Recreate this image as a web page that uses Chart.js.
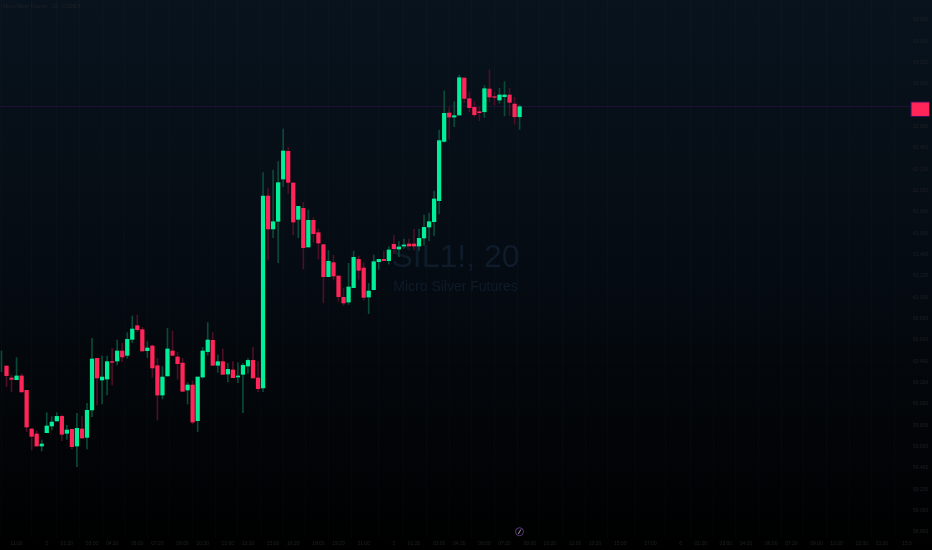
<!DOCTYPE html>
<html>
<head>
<meta charset="utf-8">
<title>SIL1!, 20</title>
<script src="https://cdn.jsdelivr.net/npm/chart.js@4"></script>
<style>
    html, body { margin: 0; padding: 0; background: #000; overflow: hidden; }
    canvas { display: block; }
</style>
</head>
<body>
<canvas id="chart" width="932" height="550"></canvas>
<script>
// bar number of the first entry in the arrays below
const firstBar = -1;

// the first bar is cut off at the left edge, only its wick shows
const opens = [null,
    60.356, 60.244, 60.228, 60.263, 60.128, 59.766, 59.719, 59.606, 59.731, 59.794,
    59.841, 59.884, 59.725, 59.763, 59.606, 59.766, 59.687, 59.944, 60.428, 60.225,
    60.234, 60.397, 60.403, 60.497, 60.456, 60.606, 60.734, 60.697, 60.500, 60.544,
    60.359, 60.084, 60.263, 60.497, 60.441, 60.384, 60.131, 60.178, 59.844, 60.253,
    60.491, 60.597, 60.363, 60.397, 60.281, 60.319, 60.253, 60.278, 60.356, 60.409,
    60.244, 60.150, 61.950, 61.641, 61.713, 62.109, 62.369, 62.072, 61.731, 61.834,
    61.472, 61.722, 61.606, 61.494, 61.194, 61.325, 61.200, 61.000, 60.956, 61.091,
    61.356, 61.275, 61.003, 61.072, 61.334, 61.356, 61.344, 61.497, 61.453, 61.481,
    61.500, 61.500, 61.481, 61.556, 61.659, 61.709, 61.906, 62.462, 62.728, 62.690,
    62.709, 63.056, 62.862, 62.781, 62.740, 62.740, 62.953, 62.881, 62.850, 62.881,
    62.897, 62.812, 62.693];

const highs = [60.497,
    60.356, 60.272, 60.434, 60.281, 60.128, 59.766, 59.750, 59.663, 59.919, 59.881,
    59.919, 59.897, 59.800, 59.763, 59.913, 59.881, 60.006, 60.616, 60.428, 60.450,
    60.450, 60.522, 60.600, 60.569, 60.669, 60.825, 60.834, 60.719, 60.584, 60.553,
    60.428, 60.350, 60.709, 60.684, 60.484, 60.428, 60.200, 60.216, 60.253, 60.531,
    60.763, 60.669, 60.459, 60.516, 60.381, 60.397, 60.387, 60.381, 60.428, 60.531,
    60.400, 62.169, 62.022, 62.194, 62.272, 62.578, 62.406, 62.072, 61.853, 61.891,
    61.819, 61.747, 61.641, 61.494, 61.438, 61.394, 61.200, 61.084, 61.319, 61.434,
    61.388, 61.325, 61.131, 61.397, 61.356, 61.434, 61.475, 61.584, 61.522, 61.547,
    61.547, 61.637, 61.640, 61.772, 61.790, 61.997, 62.569, 62.937, 62.778, 62.834,
    63.084, 63.056, 62.928, 62.834, 62.787, 62.984, 63.131, 62.928, 62.959, 63.022,
    62.959, 62.875, 62.803];

const lows = [60.303,
    60.163, 60.116, 60.225, 60.113, 59.741, 59.569, 59.606, 59.559, 59.731, 59.756,
    59.841, 59.656, 59.669, 59.578, 59.413, 59.681, 59.578, 59.881, 59.991, 60.000,
    60.084, 60.178, 60.366, 60.397, 60.428, 60.575, 60.678, 60.497, 60.434, 60.250,
    59.850, 60.047, 60.263, 60.456, 60.231, 60.119, 60.000, 59.813, 59.741, 60.241,
    60.459, 60.363, 60.297, 60.278, 60.206, 60.247, 60.200, 59.919, 60.288, 60.244,
    60.116, 60.116, 61.350, 61.559, 61.325, 62.038, 61.975, 61.584, 61.559, 61.266,
    61.472, 61.516, 61.359, 60.950, 61.194, 61.163, 60.963, 60.925, 60.934, 61.091,
    61.169, 60.975, 60.847, 61.069, 61.262, 61.344, 61.312, 61.412, 61.381, 61.459,
    61.481, 61.444, 61.440, 61.490, 61.531, 61.575, 61.781, 62.453, 62.484, 62.600,
    62.709, 62.825, 62.740, 62.694, 62.656, 62.687, 62.834, 62.803, 62.819, 62.700,
    62.703, 62.622, 62.575];

const closes = [null,
    60.266, 60.231, 60.263, 60.113, 59.784, 59.697, 59.606, 59.625, 59.794, 59.831,
    59.884, 59.716, 59.756, 59.600, 59.772, 59.681, 59.941, 60.422, 60.244, 60.253,
    60.397, 60.391, 60.497, 60.441, 60.606, 60.703, 60.697, 60.497, 60.525, 60.338,
    60.084, 60.253, 60.516, 60.456, 60.378, 60.119, 60.178, 59.831, 60.253, 60.497,
    60.600, 60.363, 60.397, 60.278, 60.325, 60.247, 60.263, 60.363, 60.409, 60.244,
    60.144, 61.950, 61.641, 61.709, 62.075, 62.372, 62.078, 61.706, 61.853, 61.466,
    61.722, 61.597, 61.509, 61.194, 61.338, 61.200, 61.006, 60.947, 61.097, 61.375,
    61.253, 61.000, 61.059, 61.334, 61.356, 61.344, 61.444, 61.456, 61.472, 61.491,
    61.481, 61.481, 61.553, 61.656, 61.709, 61.922, 62.469, 62.725, 62.690, 62.703,
    63.059, 62.865, 62.778, 62.712, 62.731, 62.956, 62.878, 62.875, 62.897, 62.897,
    62.828, 62.693, 62.787];

const priceTicks = [58.8, 59.0, 59.2, 59.4, 59.6, 59.8, 60.0, 60.2, 60.4, 60.6, 60.8, 61.0, 61.2,
    61.4, 61.6, 61.8, 62.0, 62.2, 62.4, 62.6, 62.8, 63.0, 63.2, 63.4, 63.6];

const timeTickBars = [2, 8, 12, 17, 21, 26, 30, 35, 39, 44, 48, 53, 57, 62, 66, 71, 77, 81, 86, 90, 95, 99,
    104, 108, 113, 117, 122, 128, 134, 138, 143, 147, 152, 156, 161, 165, 170, 174, 179];
const timeTickLabels = ['11:00', '2', '01:20', '03:00', '04:20', '06:00', '07:20', '09:00', '10:20', '12:00',
    '13:20', '15:00', '16:20', '18:00', '19:20', '21:00', '3', '01:20', '03:00', '04:20', '06:00', '07:20',
    '09:00', '10:20', '12:00', '13:20', '15:00', '17:00', '6', '01:20', '03:00', '04:20', '06:00', '07:20',
    '09:00', '10:20', '12:00', '13:20', '15:0'];

const lastPrice = 62.794;
const titleText = 'Micro Silver Futures · 20 · COMEX';
const watermarkSymbol = 'SIL1!, 20';
const watermarkName = 'Micro Silver Futures';

const UP = '#00f09a';
const DOWN = '#ff2558';
const UP_WICK = '#0a4a38';
const DOWN_WICK = '#4c0f26';
const TEXT = '#1f2226';
const GRID_X = 'rgba(110,135,160,0.04)';
const GRID_Y = 'rgba(110,135,160,0.012)';

const bars = opens.map((_, i) => firstBar + i);
const isUp = i => closes[i] >= opens[i];

const backdrop = {
    id: 'backdrop',
    beforeDraw(chart) {
        const { ctx, width, height } = chart;
        const g = ctx.createLinearGradient(0, 0, 0, height);
        g.addColorStop(0, '#08131d');
        g.addColorStop(0.5, '#050b12');
        g.addColorStop(1, '#000000');
        ctx.save();
        ctx.fillStyle = g;
        ctx.fillRect(0, 0, width, height);
        ctx.restore();
    },
    beforeDatasetsDraw(chart) {
        const { ctx, chartArea, scales } = chart;
        const y = scales.y.getPixelForValue(lastPrice);
        ctx.save();
        ctx.textAlign = 'center';
        ctx.textBaseline = 'middle';
        ctx.fillStyle = '#0e1b2a';
        ctx.font = '32px "Liberation Sans"';
        ctx.fillText(watermarkSymbol, 455.5, 258);
        ctx.font = '14px "Liberation Sans"';
        ctx.fillText(watermarkName, 455.5, 287);
        ctx.textAlign = 'left';
        ctx.fillStyle = TEXT;
        ctx.font = '5px "Liberation Sans"';
        ctx.fillText(titleText, 3, 6.5);
        ctx.strokeStyle = '#1f0f33';
        ctx.lineWidth = 1;
        ctx.beginPath();
        ctx.moveTo(chartArea.left, Math.round(y) + 0.5);
        ctx.lineTo(chartArea.right, Math.round(y) + 0.5);
        ctx.stroke();
        ctx.restore();
    },
    afterDraw(chart) {
        const { ctx, scales } = chart;
        const y = scales.y.getPixelForValue(lastPrice);
        ctx.save();
        // price tag on the axis
        ctx.fillStyle = '#3c0f5e';
        ctx.fillRect(910.5, y - 4.5, 19.5, 15.5);
        ctx.fillStyle = '#ff2558';
        ctx.fillRect(911.5, y - 3.5, 17.5, 13.5);
        // small logo at the bottom
        ctx.strokeStyle = '#5a3a78';
        ctx.lineWidth = 1;
        ctx.beginPath();
        ctx.arc(519.5, 531.7, 4, 0, Math.PI * 2);
        ctx.stroke();
        ctx.strokeStyle = '#9a9aa4';
        ctx.beginPath();
        ctx.moveTo(520.8, 529.5);
        ctx.lineTo(518.4, 534);
        ctx.stroke();
        ctx.restore();
    },
};

new Chart(document.getElementById('chart'), {
    type: 'bar',
    data: {
        datasets: [
            {
                label: 'body',
                data: bars.map((x, i) => ({ x, y: opens[i] === null ? null : [opens[i], closes[i]] })),
                backgroundColor: bars.map((_, i) => (isUp(i) ? UP : DOWN)),
                barThickness: 3.6,
                grouped: false,
                order: 1,
            },
            {
                label: 'wick',
                data: bars.map((x, i) => ({ x, y: [lows[i], highs[i]] })),
                backgroundColor: bars.map((_, i) => (isUp(i) ? UP_WICK : DOWN_WICK)),
                barThickness: 1,
                grouped: false,
                order: 2,
            },
        ],
    },
    plugins: [backdrop],
    options: {
        responsive: false,
        animation: false,
        devicePixelRatio: 1,
        layout: { padding: 0 },
        plugins: {
            legend: { display: false },
            tooltip: { enabled: false },
        },
        scales: {
            x: {
                type: 'linear',
                min: -1.292,
                max: 179.6,
                offset: false,
                afterBuildTicks: scale => {
                    scale.ticks = timeTickBars.map(value => ({ value }));
                },
                afterFit: scale => {
                    scale.height = 12;
                    scale.paddingLeft = 0;
                    scale.paddingRight = 0;
                },
                grid: { color: GRID_X, drawTicks: false },
                border: { display: false },
                ticks: {
                    autoSkip: false,
                    maxRotation: 0,
                    padding: 3,
                    color: TEXT,
                    font: { family: '"Liberation Sans"', size: 5 },
                    callback: value => timeTickLabels[timeTickBars.indexOf(value)],
                },
            },
            y: {
                type: 'linear',
                position: 'right',
                min: 58.7438,
                max: 63.7875,
                afterBuildTicks: scale => {
                    scale.ticks = priceTicks.map(value => ({ value }));
                },
                afterFit: scale => {
                    scale.width = 22;
                    scale.paddingTop = 0;
                    scale.paddingBottom = 0;
                },
                grid: { color: GRID_Y, drawTicks: false },
                border: { display: false },
                ticks: {
                    padding: 3,
                    color: TEXT,
                    font: { family: '"Liberation Sans"', size: 5 },
                    callback: value => value.toFixed(3),
                },
            },
        },
    },
});
</script>
</body>
</html>
